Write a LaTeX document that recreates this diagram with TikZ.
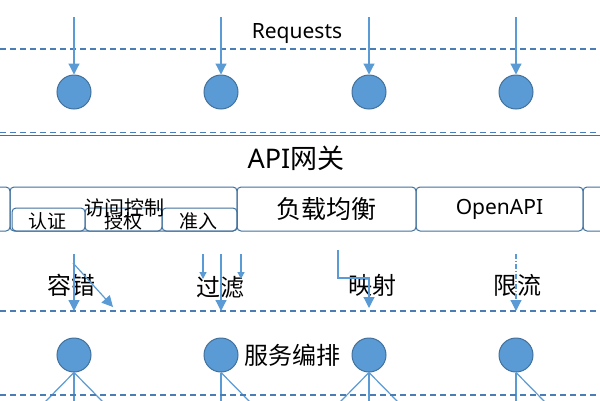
\documentclass[tikz,border=0pt]{standalone}
\usepackage{fontspec}
\setmainfont{Noto Sans}
\newfontfamily\cjk{Noto Sans CJK SC}
\usetikzlibrary{arrows.meta}
\definecolor{dotblue}{HTML}{5B9BD5}
\definecolor{edgeblue}{HTML}{41719C}
\definecolor{sepblue}{HTML}{4A7DB3}
\tikzset{
  dot/.style={circle, fill=dotblue, draw=edgeblue, line width=1pt, minimum size=34pt, inner sep=0pt},
  arr/.style={draw=dotblue, line width=1.2pt, -{Triangle[width=11pt,length=11pt]}},
  sarr/.style={draw=dotblue, line width=1.2pt, -{Triangle[width=7pt,length=7pt]}},
  wire/.style={draw=dotblue, line width=1.2pt},
  sep/.style={draw=sepblue, line width=1.2pt, dash pattern=on 6pt off 4pt},
  gbox/.style={draw=edgeblue, line width=1pt, rounded corners=4pt, inner sep=0pt},
  zh/.style={font=\cjk\fontsize{24}{24}\selectfont, inner sep=0pt},
  zhs/.style={font=\cjk\fontsize{19}{19}\selectfont, inner sep=0pt},
}
\begin{document}
\begin{tikzpicture}[x=1pt,y=-1pt]
\useasboundingbox (0,0) rectangle (600,400);
\fill[white] (0,0) rectangle (600,400);

% Requests layer
\node[inner sep=0pt, font=\fontsize{21}{21}\selectfont] (req) at (297,34) {Requests};
\coordinate (sepAl) at (0,49); \coordinate (sepAr) at (600,49);
\draw[sep] (sepAl) -- (sepAr);
\foreach \i/\x in {1/74,2/221,3/369,4/516}{
  \node[dot] (r\i) at (\x,92) {};
  \coordinate (s\i) at (\x,17);
  \draw[arr] (s\i) -- (r\i);
}

% gateway separator
\coordinate (sepBl) at (0,132.5); \coordinate (sepBr) at (600,132.5);
\draw[sep] (sepBl) -- (sepBr);
\coordinate (gwl) at (0,135); \coordinate (gwr) at (600,135);
\draw[draw=edgeblue, line width=1pt] (gwl) -- (gwr);
\node[inner sep=0pt, font=\fontsize{27}{27}\selectfont] (gw) at (296,158) {API{\cjk 网关}};

% boxes row
\node[gbox, minimum width=30pt, minimum height=44pt] (bL) at (-5,209) {};
\node[gbox, minimum width=227pt, minimum height=44pt] (bAcc) at (123.5,209) {};
\node[gbox, minimum width=179pt, minimum height=44pt, font=\cjk\fontsize{25}{25}\selectfont] (bLB) at (326.5,209) {负载均衡};
\node[gbox, minimum width=167pt, minimum height=44pt, font=\fontsize{21}{21}\selectfont] (bOA) at (499.5,209) {OpenAPI};
\node[gbox, minimum width=30pt, minimum height=44pt] (bR) at (598,209) {};
% sub boxes
\node[gbox, minimum width=73pt, minimum height=23pt] (bAuth) at (48.5,219.5) {};
\node[gbox, minimum width=77pt, minimum height=23pt] (bPerm) at (123.5,219.5) {};
\node[gbox, minimum width=75pt, minimum height=23pt] (bAdm) at (199.5,219.5) {};
\node[zhs, font=\cjk\fontsize{20}{20}\selectfont] (tAcc) at (124,208) {访问控制};
\node[zhs] (tAuth) at (47,221) {认证};
\node[zhs] (tPerm) at (123,221) {授权};
\node[zhs] (tAdm) at (198,221) {准入};

% filter labels
\node[zh] (tFT) at (71,285) {容错};
\node[zh] (tFL) at (220,287) {过滤};
\node[zh] (tMP) at (372,285) {映射};
\node[zh] (tRL) at (517,285) {限流};

\coordinate (sepCl) at (0,311); \coordinate (sepCr) at (600,311);
\draw[sep] (sepCl) -- (sepCr);

% fault tolerance arrows
\coordinate (f1a) at (74,254); \coordinate (f1b) at (74,311);
\draw[arr] (f1a) -- (f1b);
\coordinate (f2a) at (73,263); \coordinate (f2b) at (113,307);
\draw[arr] (f2a) -- (f2b);
% filter arrows
\coordinate (g1a) at (203,254); \coordinate (g1b) at (203,279);
\draw[sarr] (g1a) -- (g1b);
\coordinate (g2a) at (221,254); \coordinate (g2b) at (221,311);
\draw[arr] (g2a) -- (g2b);
\coordinate (g3a) at (241,254); \coordinate (g3b) at (241,279);
\draw[sarr] (g3a) -- (g3b);
% mapping arrow
\coordinate (m1a) at (338,250); \coordinate (m1b) at (369,308);
\draw[arr] (m1a) |- (353,278) -| (m1b);
% rate limit arrow
\coordinate (l1a) at (516,254); \coordinate (l1b) at (516,311);
\draw[arr, dash pattern=on 5pt off 2pt on 1pt off 2pt] (l1a) -- (l1b);

% service orchestration
\node[zh] (tSO) at (292,355) {服务编排};
\foreach \i/\x in {1/74,2/221,3/369,4/516}{
  \node[dot] (o\i) at (\x,355) {};
  \coordinate (v\i) at (\x,402);
  \draw[wire] (o\i.south) -- (v\i);
}
\coordinate (d1l) at (45,402); \coordinate (d1r) at (103,402);
\draw[wire] (o1.south) -- (d1l); \draw[wire] (o1.south) -- (d1r);
\coordinate (d2r) at (250,402);
\draw[wire] (o2.south) -- (d2r);
\coordinate (d3l) at (340,402); \coordinate (d3r) at (398,402);
\draw[wire] (o3.south) -- (d3l); \draw[wire] (o3.south) -- (d3r);
\coordinate (d4r) at (545,402);
\draw[wire] (o4.south) -- (d4r);

\coordinate (sepDl) at (0,395); \coordinate (sepDr) at (600,395);
\draw[sep] (sepDl) -- (sepDr);
\end{tikzpicture}
\end{document}
